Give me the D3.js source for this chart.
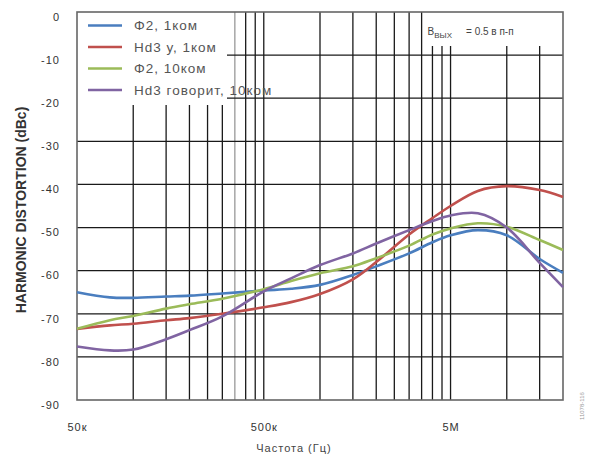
<!DOCTYPE html>
<html>
<head>
<meta charset="utf-8">
<script src="https://cdn.jsdelivr.net/npm/d3@7"></script>
<style>
	body { margin: 0; background: #fff; }
	svg { display: block; font-family: Arial, "Liberation Sans", sans-serif; }
	.tick text { fill: #333; }
</style>
</head>
<body>
<svg id="chart" width="590" height="454"></svg>
<script>
// values (dBc), one per frequency
const FREQS = [50e3, 75e3, 100e3, 150e3, 200e3, 300e3, 500e3, 700e3, 1e6, 1.5e6, 2e6, 3e6, 4e6, 5e6, 7e6, 10e6, 15e6, 20e6];
const HD2_1K = [-65, -66.2, -66.3, -66, -65.8, -65.3, -64.6, -64.2, -63.3, -61, -59, -56, -53.4, -51.8, -50.6, -51.8, -57.3, -60.5];
const HD3_1K = [-73.5, -72.7, -72.3, -71.5, -71, -70, -68.5, -67.3, -65.4, -62, -58, -51.6, -47.8, -45, -41.5, -40.4, -41.3, -42.9];
const HD2_10K = [-73.5, -71.5, -70.5, -68.8, -67.8, -66.5, -64.3, -62.4, -60.6, -59, -57.1, -54.2, -51.6, -50.2, -49, -49.8, -52.9, -55.2];
const HD3_10K = [-77.6, -78.5, -78.3, -75.9, -73.8, -70.6, -64.8, -61.8, -58.7, -56, -53.7, -50.6, -48.5, -47.2, -46.7, -50, -58.2, -63.8];

const SERIES_NAMES = ['Φ2, 1ком', 'Hd3 у, 1ком', 'Φ2, 10ком', 'Hd3 говорит, 10ком'];
const SERIES_VALUES = [HD2_1K, HD3_1K, HD2_10K, HD3_10K];
const COLORS = ['#4a7ebf', '#c0504d', '#9bbb59', '#8064a2'];

const X_TICKS = [50e3, 500e3, 5e6];
const X_TICK_LABELS = ['50к', '500к', '5М'];
const Y_TICKS = [0, -10, -20, -30, -40, -50, -60, -70, -80, -90];
const GRID_FREQS = [100e3, 150e3, 200e3, 250e3, 300e3, 350e3, 400e3, 450e3, 500e3,
	1e6, 1.5e6, 2e6, 2.5e6, 3e6, 3.5e6, 4e6, 4.5e6, 5e6, 10e6, 15e6];

const MARGIN = { top: 12, right: 27, bottom: 54, left: 77 };
const SVG_WIDTH = 590;
const SVG_HEIGHT = 454;
const WIDTH = SVG_WIDTH - MARGIN.left - MARGIN.right;
const HEIGHT = SVG_HEIGHT - MARGIN.top - MARGIN.bottom;

const x = d3.scaleLog().domain([50e3, 20e6]).range([0, WIDTH]);
const y = d3.scaleLinear().domain([-90, 0]).range([HEIGHT, 0]);

// legend box and annotation box hide the grid behind them
const LEGEND_W = 150, LEGEND_H = 93;
const NOTE_X = x(3.5e6) + 1, NOTE_H = 34;

const svg = d3.select('#chart')
.append('g')
	.attr('transform', 'translate(' + MARGIN.left + ', ' + MARGIN.top + ')');

// vertical grid
svg.selectAll('.vgrid')
	.data(GRID_FREQS)
	.enter()
	.append('line')
		.attr('class', 'vgrid')
		.attr('x1', d => x(d))
		.attr('x2', d => x(d))
		.attr('y1', d => x(d) < LEGEND_W ? LEGEND_H : (x(d) > NOTE_X ? NOTE_H : 0))
		.attr('y2', HEIGHT)
		.attr('stroke', d => d === 350e3 ? '#999' : '#1a1a1a')
		.attr('stroke-width', 1.3);

// horizontal grid
svg.selectAll('.hgrid')
	.data(Y_TICKS.filter(d => d < 0 && d > -90))
	.enter()
	.append('line')
		.attr('class', 'hgrid')
		.attr('x1', d => y(d) < LEGEND_H ? LEGEND_W : 0)
		.attr('x2', WIDTH)
		.attr('y1', d => y(d))
		.attr('y2', d => y(d))
		.attr('stroke', '#1a1a1a')
		.attr('stroke-width', 1.3);

// frame
svg.append('rect')
	.attr('width', WIDTH)
	.attr('height', HEIGHT)
	.attr('fill', 'none')
	.attr('stroke', '#666')
	.attr('stroke-width', 1.6);

// curves
const line = d3.line()
	.x((d, i) => x(FREQS[i]))
	.y(d => y(d))
	.curve(d3.curveCatmullRom.alpha(0.5));

svg.selectAll('.curve')
	.data(SERIES_VALUES)
	.enter()
	.append('path')
		.attr('class', 'curve')
		.attr('fill', 'none')
		.attr('stroke', (d, i) => COLORS[i])
		.attr('stroke-width', 2.6)
		.attr('stroke-linejoin', 'round')
		.attr('d', line);

// legend
const legend = svg.append('g')
	.attr('transform', 'translate(11, 13.5)');

legend.selectAll('.legend-line')
	.data(SERIES_NAMES)
	.enter()
	.append('line')
		.attr('x1', 0)
		.attr('x2', 34)
		.attr('y1', (d, i) => i * 21.5)
		.attr('y2', (d, i) => i * 21.5)
		.attr('stroke', (d, i) => COLORS[i])
		.attr('stroke-width', 2.6);

legend.selectAll('.legend-label')
	.data(SERIES_NAMES)
	.enter()
	.append('text')
		.attr('x', 46)
		.attr('y', (d, i) => i * 21.5)
		.attr('dy', '.35em')
		.style('font-size', '13.5px')
		.style('letter-spacing', '1px')
		.attr('fill', '#555')
		.text(d => d);

// annotation
const note = svg.append('text')
	.attr('x', NOTE_X + 5)
	.attr('y', 23)
	.style('font-size', '10px')
	.attr('fill', '#444');
note.append('tspan').text('В');
note.append('tspan').attr('dy', 3).style('font-size', '8px').text('ВЫХ');
note.append('tspan').attr('dy', -3).attr('dx', 14).text('= 0.5 в п-п');

// X-Axis
svg.append('g')
	.attr('transform', 'translate(0, ' + HEIGHT + ')')
	.call(d3.axisBottom(x).tickValues(X_TICKS).tickFormat((d, i) => X_TICK_LABELS[i]).tickSize(0).tickPadding(23))
	.call(g => g.select('.domain').remove())
	.selectAll('text')
		.style('font-size', '11px')
		.style('letter-spacing', '1px')
		.style('font-family', 'Arial, sans-serif');

svg.append('text')
	.attr('text-anchor', 'middle')
	.attr('x', 294 - MARGIN.left)
	.attr('y', HEIGHT + 52)
	.style('font-size', '11px')
	.style('letter-spacing', '1px')
	.attr('fill', '#444')
	.text('Частота (Гц)');

// Y-Axis
svg.append('g')
	.call(d3.axisLeft(y).tickValues(Y_TICKS).tickFormat(d => String(d)).tickSize(0).tickPadding(17))
	.call(g => g.select('.domain').remove())
	.selectAll('text')
		.attr('dy', '.75em')
		.style('font-size', '11px')
		.style('letter-spacing', '1px')
		.style('font-family', 'Arial, sans-serif');

svg.append('text')
	.attr('transform', 'rotate(-90)')
	.attr('x', 0 - 198)
	.attr('y', 0 - MARGIN.left + 26)
	.style('text-anchor', 'middle')
	.style('font-size', '14px')
	.style('font-weight', 'bold')
	.attr('fill', '#333')
	.text('HARMONIC DISTORTION (dBc)');

// figure id at the right edge
svg.append('text')
	.attr('transform', 'translate(' + (WIDTH + 21) + ', ' + (HEIGHT + 20) + ') rotate(-90)')
	.style('font-size', '6px')
	.attr('fill', '#999')
	.text('11078-116');
</script>
</body>
</html>
